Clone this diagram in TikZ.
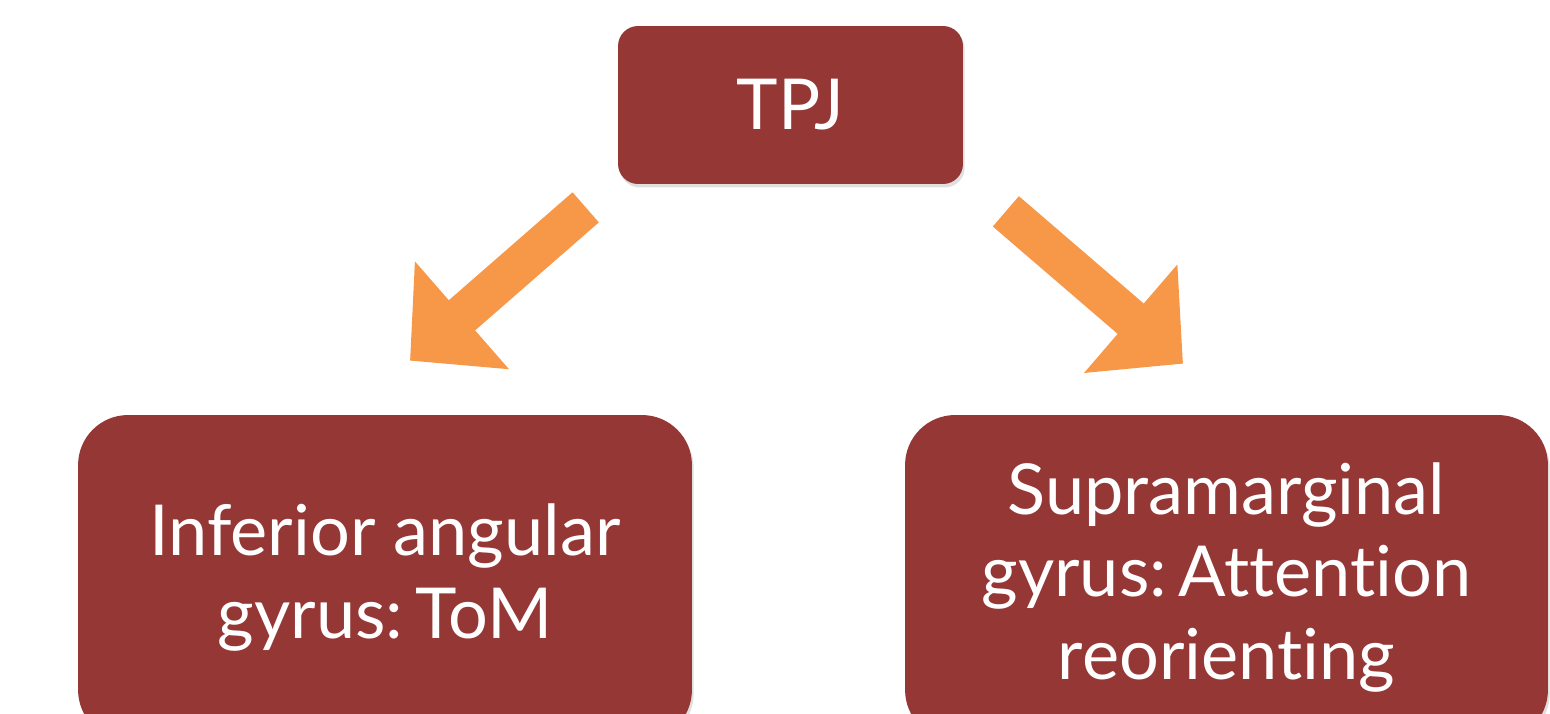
\documentclass[tikz,border=0pt]{standalone}
\usepackage{fontspec}
\setmainfont{Lato}[Ligatures=NoCommon]
\usetikzlibrary{arrows.meta,calc,shadows}
\definecolor{brick}{RGB}{149,55,53}
\definecolor{arroworange}{RGB}{247,151,72}

\begin{document}
\begin{tikzpicture}[x=0.02cm,y=-0.02cm,
 box/.style={fill=brick,text=white,align=center,
 font=\fontsize{40}{47}\selectfont,
 drop shadow={opacity=.25,shadow xshift=1pt,shadow yshift=-2pt}},
 bigarrow/.style={draw=arroworange,line width=.8cm,
 -{Triangle[length=1.38cm,width=2.78cm]}}
]
\clip (0,0) rectangle (1550,713);
\node[box,rounded corners=.4cm,minimum width=6.9cm,minimum height=3.16cm] (tpj)
 at (790.5,105) {TPJ};
\node[box,rounded corners=1cm,minimum width=12.28cm,minimum height=6.5cm] (ang)
 at (385,577.5) {Inferior angular\\gyrus:\,ToM};
\node[box,rounded corners=1cm,minimum width=12.86cm,minimum height=6.5cm] (supra)
 at (1226.5,577.5) {Supramarginal\\gyrus:\,Attention\\reorienting};
\draw[bigarrow] ($(tpj.south west)+(-32,23)$) -- ($(ang.north)+(25,-54)$);
\draw[bigarrow] ($(tpj.south east)+(42.5,27)$) -- ($(supra.north)+(-43.5,-51)$);
\end{tikzpicture}
\end{document}
